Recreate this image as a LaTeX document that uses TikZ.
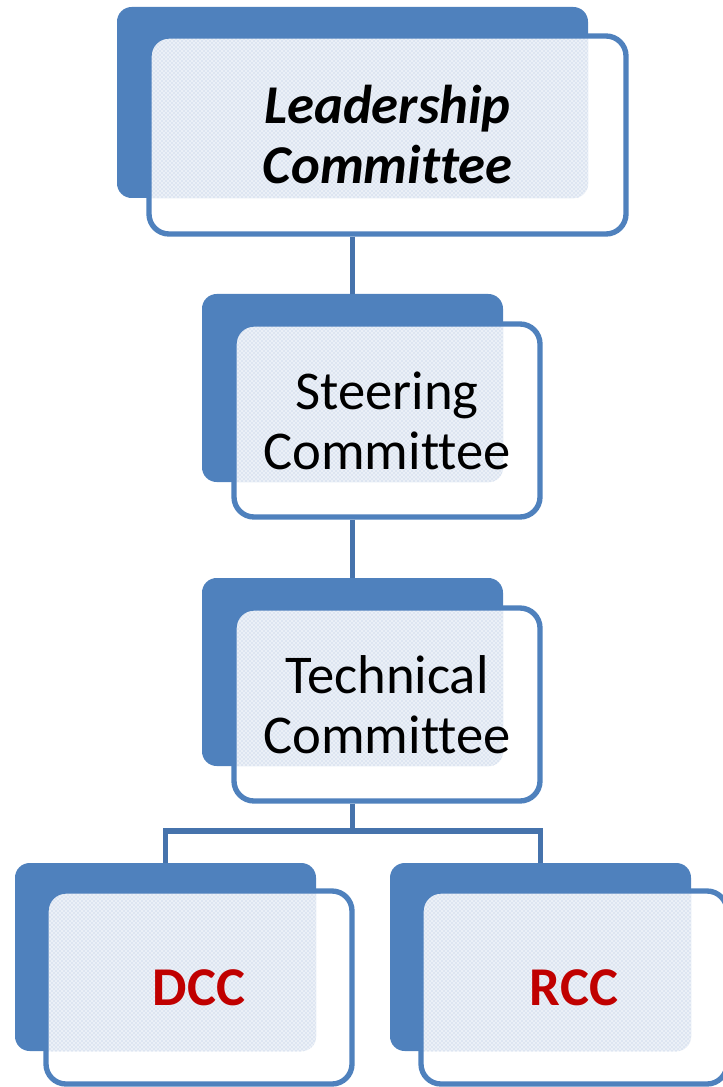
\documentclass[tikz,border=0pt]{standalone}
\usepackage{fontspec}
\setmainfont{Carlito}[Ligatures=NoCommon]
\usetikzlibrary{patterns}
\definecolor{accent}{HTML}{4F81BD}
\definecolor{linkc}{HTML}{4673AC}
\definecolor{dotbg}{HTML}{EBF0F7}
\definecolor{dotc}{HTML}{AFC3E0}
\definecolor{redc}{HTML}{C00000}
\tikzset{
  backbox/.style={draw=none, fill=accent, rounded corners=11pt, inner sep=0pt,
    minimum width=225.75pt, minimum height=141pt},
  frontbox/.style={draw=accent, line width=4pt, fill=white, rounded corners=15pt,
    inner sep=0pt, minimum width=229.5pt, minimum height=144.75pt,
    font=\fontsize{41}{45}\selectfont, align=center,
    path picture={\fill[tex, rounded corners=11pt] (#1.south west) rectangle (#1.north east);}},
  tex/.style={fill=dotbg, postaction={pattern=crosshatch dots, pattern color=dotc}},
  link/.style={draw=linkc, line width=3.9pt},
}
\begin{document}
\begin{tikzpicture}[x=0.75pt,y=-0.75pt]
\useasboundingbox (0,0) rectangle (722,1087);
% Leadership
\node[backbox, minimum width=353.25pt, minimum height=143.25pt] (lcb) at (352.5,102.5) {};
\node[frontbox=lcb, minimum width=357.75pt, minimum height=148.5pt] (lc) at (387.5,135)
  {\bfseries\itshape Leadership\\\bfseries\itshape Committee};
% Steering
\node[backbox] (scb) at (352.5,388) {};
\node[frontbox=scb] (sc) at (387,420.5) {Steering\\Committee};
% Technical
\node[backbox] (tcb) at (352.5,672) {};
\node[frontbox=tcb] (tc) at (387,704.5) {Technical\\Committee};
% DCC
\node[backbox] (dcb) at (165.5,957) {};
\node[frontbox=dcb] (dc) at (199,987.5) {\bfseries\color{redc}DCC};
% RCC
\node[backbox] (rcb) at (540.5,957) {};
\node[frontbox=rcb] (rc) at (574,987.5) {\bfseries\color{redc}RCC};
% connectors
\coordinate (tj) at (352.5,831);
\draw[link] (lcb.center |- lc.south) -- (scb.north);
\draw[link] (scb.center |- sc.south) -- (tcb.north);
\draw[link] (tcb.center |- tc.south) -- (tj);
\draw[link] (dcb.north) -- (dcb.north |- tj) -- (rcb.north |- tj) -- (rcb.north);
\end{tikzpicture}
\end{document}
